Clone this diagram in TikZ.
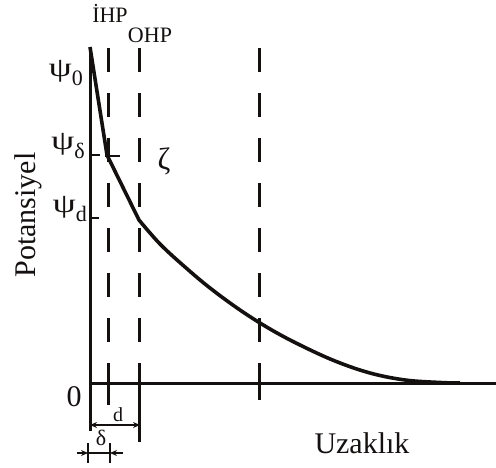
\documentclass[tikz,border=0pt]{standalone}
\usepackage{fontspec}
\setmainfont{Liberation Serif}
\usepackage{tikz}
\usetikzlibrary{arrows.meta,positioning,calc}
\definecolor{ink}{HTML}{141010}

\newcommand{\psiLabel}[1]{\scalebox{1.55}[1.12]{ψ}\raisebox{-9pt}{\fontsize{22}{22}\selectfont #1}}

\begin{document}
\begin{tikzpicture}[x=1pt,y=-1pt,>={Stealth[length=7pt,width=6pt]},
  axis/.style={ink,line width=3pt},
  plane/.style={ink,line width=3pt,dash pattern=on 24pt off 21pt},
  curve/.style={ink,line width=3.6pt,line join=round},
  tick/.style={ink,line width=2.2pt},
  lbl/.style={inner sep=0pt,text=ink}]
  \useasboundingbox (0,0) rectangle (496,468);

  % Axes
  \coordinate (top) at (90,47);
  \coordinate (O) at (90,383);
  \coordinate (bot) at (90,431);
  \coordinate (xend) at (496,383);
  \draw[axis] (top) -- (bot);
  \draw[axis] (O) -- (xend);

  % Planes (IHP, OHP, outer one)
  \foreach \name/\px/\low in {ihp/108/405, ohp/139/442, far/259/400} {
    \coordinate (\name-t) at (\px,48);
    \coordinate (\name-o) at (\px,383);
    \coordinate (\name-b) at (\px,\low);
    \draw[plane] (\name-t) -- (\name-o);
    \draw[plane,solid] (\name-o) -- (\name-b);
  }

  % Potential profile
  \coordinate (psiD) at (107,155);
  \coordinate (psid) at (139,220);
  \draw[curve] (top) -- (psiD) -- (psid) -- plot[smooth,tension=0.6] coordinates
    {(139,220) (160,244) (185,267) (210,288) (240,310) (270,329) (300,345)
     (335,361) (370,373) (405,380) (440,382.5) (460,383)};

  % Level ticks
  \draw[tick] (90,155) -- (100,155);
  \draw[tick] (105,156) -- (120,156);
  \draw[tick] (90,218) -- (99,218);

  % Labels
  \node[lbl,anchor=base east] (psi0) at (83,77) {\fontsize{24}{24}\selectfont\psiLabel{0}};
  \node[lbl,anchor=base east] (psiDl) at (85,150) {\fontsize{24}{24}\selectfont\psiLabel{δ}};
  \node[lbl,anchor=base east] (psidl) at (87,213) {\fontsize{24}{24}\selectfont\psiLabel{d}};
  \node[lbl,anchor=base] (ihpLbl) at (110,23) {\fontsize{22}{22}\selectfont İHP};
  \node[lbl,anchor=base] (ohpLbl) at (150,43) {\fontsize{22}{22}\selectfont OHP};
  \node[lbl] (zeta) at (164,161) {\fontsize{31}{31}\selectfont ζ};
  \node[lbl] (zero) at (74,397) {\fontsize{30}{30}\selectfont 0};
  \node[lbl,anchor=base,rotate=90] (yLbl) at (35,215) {\fontsize{30}{30}\selectfont Potansiyel};
  \node[lbl,anchor=base] (xLbl) at (362,453) {\fontsize{30}{30}\selectfont Uzaklık};

  % Widths d and delta
  \coordinate (dL) at (90,425);
  \coordinate (dR) at (140,425);
  \draw[tick,<->] (dL) -- (dR);
  \node[lbl,anchor=base] (dLbl) at (118,421) {\fontsize{20}{20}\selectfont d};
  \coordinate (tkL) at (88,453);
  \coordinate (tkR) at (110,453);
  \draw[tick,->] (77,453) -- (tkL);
  \draw[tick,->] (123,453) -- (tkR);
  \draw[tick] (tkL) -- (tkR);
  \draw[tick] ($(tkL)+(0,-10)$) -- ($(tkL)+(0,10)$);
  \draw[tick] ($(tkR)+(0,-10)$) -- ($(tkR)+(0,10)$);
  \node[lbl] (deltaLbl) at (101,438) {\fontsize{22}{22}\selectfont δ};
\end{tikzpicture}
\end{document}
